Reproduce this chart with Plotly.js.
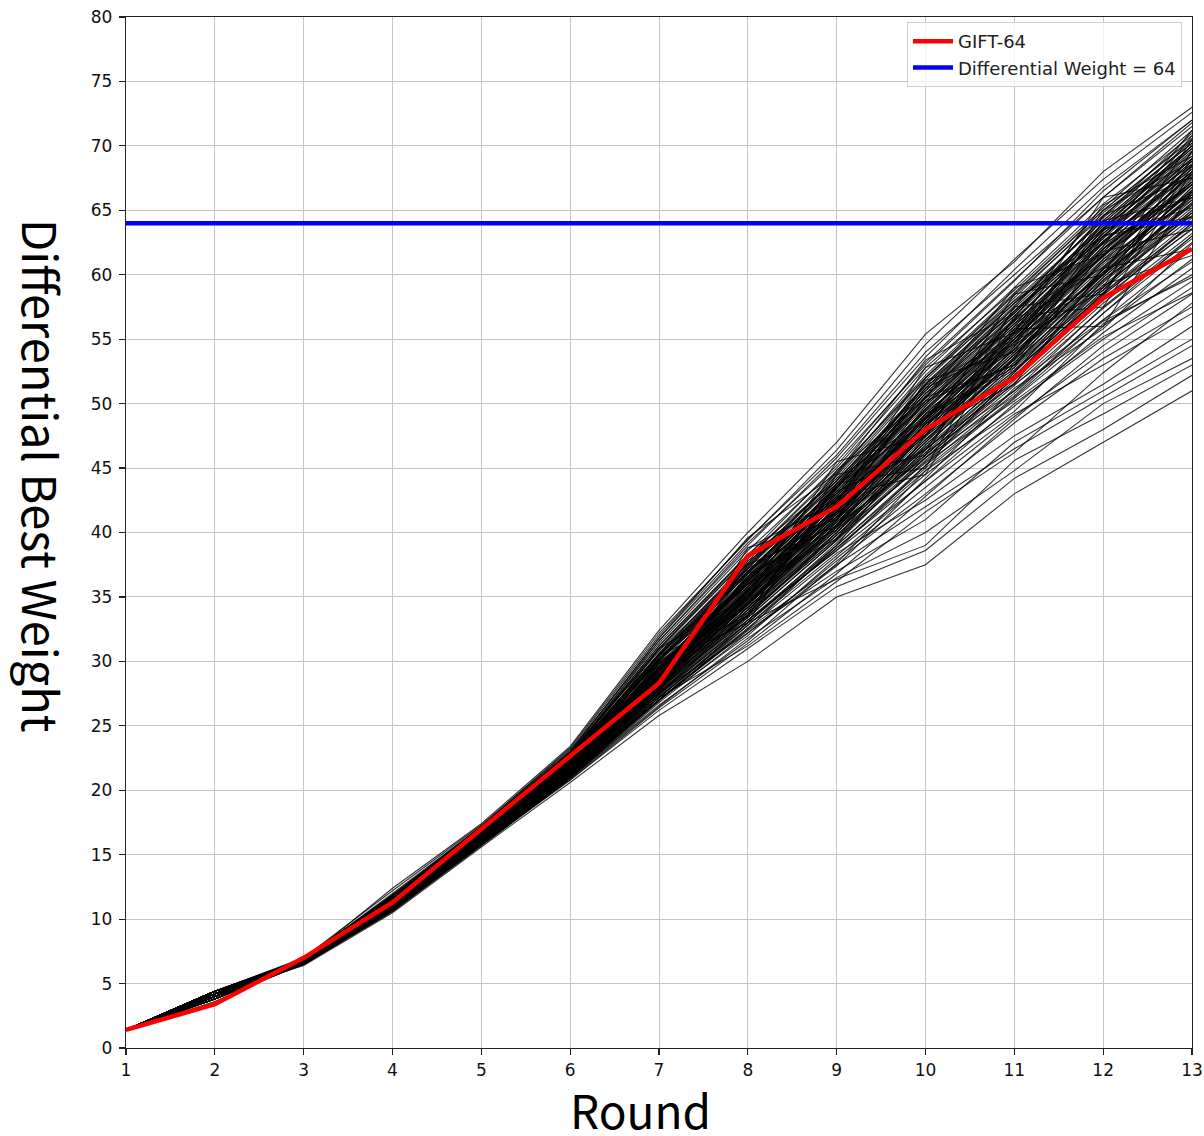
<!DOCTYPE html>
<html>
<head>
<meta charset="utf-8">
<script src="https://cdn.plot.ly/plotly-3.0.1.min.js"></script>
<style>html,body{margin:0;padding:0;background:#fff;}#chart{width:1204px;height:1136px;}</style>
</head>
<body>
<div id="chart"></div>
<script>
// ---- data ----
const rounds = [1,2,3,4,5,6,7,8,9,10,11,12,13];
const giftName = "GIFT-64";
const gift64 = [1.4,3.4,7.0,11.3,17.0,22.6,28.3,38.2,42.0,48.0,52.0,58.2,62.0];
const thresholdName = "Differential Weight = 64";
const threshold = 64;
const yTicks = [0,5,10,15,20,25,30,35,40,45,50,55,60,65,70,75,80];
const xTitle = "Round";
const yTitle = "Differential Best Weight";
// other cipher variants (best weight per round)
const variants = [
[1.4,4.4,6.8,12.4,17.4,23.4,32.4,40.0,47.0,55.4,61.0,68.0,73.0],
[1.4,4.2,6.9,12.0,17.2,23.0,31.8,39.2,45.5,53.0,59.5,66.5,72.0],
[1.4,4.0,7.0,11.8,17.0,22.8,31.0,38.0,44.8,52.0,58.5,65.0,70.5],
[1.4,4.4,6.6,11.5,16.8,22.4,30.2,37.0,43.5,51.5,57.0,64.0,70.0],
[1.4,3.8,6.8,11.2,16.5,22.0,29.5,36.2,42.8,50.2,56.5,63.0,69.0],
[1.4,4.2,6.5,10.8,16.0,21.4,28.0,34.5,41.0,48.5,55.0,62.0,68.5],
[1.4,4.0,6.7,11.0,16.2,21.8,29.0,35.5,42.0,49.0,55.8,61.5,67.5],
[1.4,4.4,6.9,11.6,16.9,22.6,30.5,36.8,43.0,50.5,57.5,64.5,71.0],
[1.4,3.6,6.6,10.9,16.1,21.2,27.5,33.5,40.0,47.0,53.5,60.5,66.5],
[1.4,4.2,6.4,10.5,15.6,20.6,25.8,30.0,35.0,37.5,43.0,47.0,51.0],
[1.4,4.4,6.6,10.7,15.8,20.8,26.2,31.0,35.8,38.6,44.2,48.0,52.2],
[1.4,4.0,6.5,10.6,15.7,20.9,26.5,31.8,36.5,40.0,44.8,50.0,53.5],
[1.4,3.8,6.7,10.9,16.0,21.2,27.0,32.5,37.5,42.0,46.5,50.5,54.5],
[1.4,4.2,6.8,11.3,16.6,22.2,29.2,35.0,40.8,46.5,51.5,56.5,61.0],
[1.4,4.0,6.9,11.4,16.7,22.4,29.8,36.0,41.5,47.5,52.5,58.5,63.5],
[1.4,4.4,6.8,11.7,17.0,22.9,30.8,37.5,43.8,50.0,56.0,62.5,68.0],
[1.4,4.2,6.7,11.1,16.4,21.9,28.6,35.0,41.2,48.0,54.2,61.0,66.0],
[1.4,3.8,6.6,10.8,16.0,21.3,27.8,33.8,39.5,45.5,51.0,57.5,63.0],
[1.4,4.0,6.8,11.2,16.5,22.1,29.0,35.8,42.5,49.5,55.5,62.0,67.0],
[1.4,4.4,7.0,12.2,17.3,23.2,32.0,39.5,46.0,54.0,60.0,66.0,71.5],
[1.4,4.2,6.9,11.9,17.1,22.9,31.2,38.3,44.0,51.2,57.8,63.5,69.5],
[1.4,4.0,6.6,11.0,16.2,21.6,28.4,34.8,40.5,46.0,52.0,58.0,64.0],
[1.4,4.4,6.5,10.7,15.9,21.0,27.0,32.0,38.0,43.5,49.0,54.0,58.5],
[1.4,4.2,6.6,10.9,16.1,21.3,27.2,32.8,38.8,44.5,49.8,55.5,60.5],
[1.4,3.8,6.7,11.1,16.3,21.7,28.2,34.2,40.2,46.8,52.8,59.0,65.0],
[1.4,4.0,6.8,11.3,16.6,22.3,29.6,36.5,43.2,50.8,56.8,63.2,69.0],
[1.4,4.4,6.9,11.5,16.8,22.5,30.0,37.2,44.5,52.5,59.0,65.5,70.8],
[1.4,4.2,6.7,11.2,16.4,22.0,28.8,35.2,41.8,48.8,54.5,60.0,65.5],
[1.4,4.0,6.5,10.8,15.9,21.1,27.2,33.0,39.0,45.0,50.5,56.5,62.0],
[1.4,4.4,6.6,10.9,16.0,21.5,28.0,34.0,39.8,46.2,52.2,58.8,64.8],
[1.4,4.2,6.8,11.4,16.7,22.3,29.4,36.0,42.2,49.2,55.2,62.5,68.5],
[1.4,3.8,6.9,11.6,16.9,22.7,30.6,37.8,44.2,51.8,58.2,64.8,70.2],
[1.4,4.0,6.6,11.0,16.2,21.7,28.3,34.6,41.0,47.8,54.0,60.2,66.2],
[1.4,4.4,6.7,11.1,16.3,21.8,28.7,35.4,41.6,48.2,54.8,61.2,67.2],
[1.4,4.2,6.5,10.6,15.8,20.9,26.8,32.2,37.8,43.0,48.5,53.5,57.5],
[1.4,4.0,6.6,10.8,15.9,21.1,27.0,32.6,38.2,44.0,50.0,55.0,59.5],
[1.4,4.4,6.8,11.3,16.6,22.2,29.2,36.2,42.8,49.8,56.2,62.8,68.8],
[1.4,4.2,6.9,11.7,17.0,22.8,30.5,37.0,43.5,50.5,56.8,63.8,69.8],
[1.4,3.8,6.7,11.2,16.5,22.0,28.9,35.6,42.0,48.8,55.0,61.8,67.8],
[1.4,4.0,6.8,11.4,16.7,22.4,29.6,36.4,43.0,50.0,56.5,63.0,68.2],
[1.4,4.4,6.6,11.0,16.2,21.6,28.2,34.4,40.6,47.2,53.2,59.5,65.2],
[1.4,4.2,6.7,11.1,16.4,21.9,28.6,35.2,41.4,47.8,53.8,60.0,66.8],
[1.4,4.0,6.9,11.8,17.1,23.0,31.4,38.6,45.0,52.8,58.8,65.2,71.2],
[1.4,4.4,6.5,10.7,15.8,21.0,27.0,32.4,37.0,41.0,47.0,51.0,55.0],
[1.4,4.2,6.6,10.9,16.0,21.3,27.4,33.2,39.0,45.2,50.8,57.0,62.5],
[1.4,4.0,6.7,11.2,16.4,21.9,28.5,34.9,41.2,48.4,54.6,61.5,67.0],
[1.4,4.4,6.8,11.5,16.8,22.5,30.0,36.8,43.4,50.8,57.2,63.6,69.2],
[1.4,4.2,6.9,11.6,16.9,22.6,30.4,37.4,44.0,51.5,58.0,64.2,70.0],
[1.4,3.8,6.6,11.0,16.2,21.5,28.0,34.2,40.4,47.0,53.0,59.8,65.8],
[1.4,4.0,6.7,11.2,16.5,22.0,28.9,35.3,41.6,48.6,55.0,61.5,66.5],
[1.4,4.4,6.5,10.6,15.7,20.8,26.4,31.4,36.8,42.8,48.8,54.5,59.0],
[1.4,4.2,6.8,11.4,16.7,22.3,29.5,36.3,42.6,49.6,55.6,62.2,68.0],
[1.4,4.0,6.9,11.7,17.0,22.8,30.9,38.0,44.6,52.2,58.6,65.0,70.6],
[1.4,4.4,6.7,11.1,16.3,21.8,28.6,35.0,41.4,48.4,54.4,60.8,66.4],
[1.4,4.2,6.6,10.9,16.1,21.4,27.8,33.8,40.0,46.4,52.6,59.2,64.4],
[1.4,4.0,6.8,11.3,16.6,22.1,29.2,35.8,42.2,49.0,55.4,62.0,67.6],
[1.4,4.4,6.9,11.8,17.1,22.9,31.0,38.2,45.2,53.2,59.6,66.0,71.8],
[1.4,4.2,6.5,10.8,16.0,21.2,27.4,33.4,39.4,45.6,51.4,57.4,62.8],
[1.4,3.8,6.7,11.2,16.4,21.9,28.7,35.2,41.6,48.2,54.2,60.6,66.2],
[1.4,4.0,6.6,11.0,16.2,21.6,28.3,34.6,40.8,47.4,53.4,60.0,65.6],
[1.4,4.4,6.8,11.4,16.7,22.3,29.6,36.6,43.4,50.6,57.0,63.4,69.4],
[1.4,4.2,6.7,11.2,16.5,22.0,29.0,35.6,42.0,48.6,54.8,61.0,67.4],
[1.4,4.0,6.5,10.7,15.8,21.0,27.0,33.0,39.2,45.8,51.8,58.2,63.6],
[1.4,4.4,6.6,11.0,16.1,21.5,28.1,34.4,40.8,47.6,53.6,60.4,66.0],
[1.4,4.2,6.9,11.6,16.9,22.6,30.2,37.2,43.8,51.2,57.4,63.8,69.6],
[1.4,3.8,6.8,11.3,16.6,22.2,29.3,36.0,42.4,49.4,55.8,62.4,68.4],
[1.4,4.0,6.7,11.1,16.3,21.8,28.5,34.8,41.0,47.6,53.8,59.6,64.6],
[1.4,4.4,6.6,10.9,16.0,21.3,27.6,33.6,39.6,45.8,51.6,57.8,63.2],
[1.4,4.2,6.8,11.4,16.7,22.4,29.8,36.8,43.6,51.0,57.6,64.4,70.4],
[1.4,4.0,6.9,11.5,16.8,22.5,30.1,37.0,43.2,50.2,56.4,63.2,68.6],
[1.4,4.4,6.5,10.8,15.9,21.2,27.3,33.2,38.6,44.0,49.2,53.0,57.0],
[1.4,4.2,6.6,10.9,16.1,21.4,27.7,33.7,39.8,46.0,52.0,58.6,64.2],
[1.4,4.0,6.7,11.2,16.4,21.9,28.8,35.4,41.8,48.8,55.2,61.6,67.2],
[1.4,4.4,6.8,11.3,16.6,22.2,29.3,36.1,42.6,49.6,56.0,62.6,68.2],
[1.4,4.2,6.7,11.1,16.3,21.7,28.4,34.7,41.0,47.8,53.8,60.4,66.6],
[1.4,4.0,6.6,11.0,16.2,21.5,28.0,34.0,40.2,46.6,52.4,59.0,64.8],
[1.4,4.4,6.9,11.7,17.0,22.7,30.6,37.6,44.4,52.0,58.4,64.6,70.2],
[1.4,4.2,6.8,11.4,16.7,22.3,29.5,36.4,43.0,50.4,56.6,63.0,68.8],
[1.4,3.8,6.5,10.7,15.8,21.0,26.9,32.8,38.4,42.5,47.5,51.5,56.0],
[1.4,4.0,6.7,11.2,16.5,22.1,29.1,35.7,42.3,49.2,55.4,61.8,67.8],
[1.4,4.4,6.6,11.0,16.1,21.5,28.2,34.5,40.6,47.2,53.2,59.4,65.0],
[1.4,4.2,6.9,11.8,17.2,23.1,31.6,39.0,45.8,53.6,60.4,66.8,72.0],
[1.4,4.0,6.8,11.3,16.6,22.2,29.4,36.2,42.8,50.0,56.2,62.6,68.0],
[1.4,4.4,6.7,11.1,16.3,21.8,28.6,35.1,41.4,48.0,54.0,60.2,65.4],
[1.4,4.2,6.6,10.9,16.0,21.4,27.9,34.0,40.0,46.4,52.2,58.4,64.0],
[1.4,4.0,6.7,11.2,16.4,22.0,28.9,35.5,41.9,48.9,55.0,61.4,67.0],
[1.4,4.4,6.8,11.5,16.8,22.5,30.0,36.9,43.6,51.0,57.2,63.6,69.0],
[1.4,4.2,6.5,10.8,15.9,21.1,27.2,33.0,38.8,44.8,50.4,56.0,61.2],
[1.4,3.8,6.6,11.0,16.2,21.6,28.2,34.4,40.6,47.2,53.4,59.8,65.4],
[1.4,4.0,6.9,11.6,16.9,22.7,30.3,37.3,44.0,51.4,57.8,64.2,70.0],
[1.4,4.0,6.8,11.6,16.4,22.6,28.0,37.5,40.5,50.5,53.0,63.0,64.5],
[1.4,4.4,6.6,11.0,17.0,21.5,30.5,33.5,44.5,46.0,57.5,58.5,69.0],
[1.4,4.2,6.9,11.9,16.2,22.9,27.5,38.8,41.0,51.8,54.0,64.2,66.0],
[1.4,3.8,6.5,10.9,16.8,21.2,29.8,33.0,43.8,45.0,56.8,57.5,68.0],
[1.4,4.0,6.7,11.4,16.5,22.2,29.0,36.0,39.5,48.0,51.5,60.5,62.0],
[1.4,4.4,6.8,11.2,16.9,22.0,31.0,35.0,45.5,47.5,58.5,60.0,70.5],
[1.4,4.2,6.6,11.5,16.1,22.7,28.2,37.8,42.2,52.8,55.5,66.0,67.5],
[1.4,4.0,6.9,11.1,16.6,21.6,30.0,34.2,42.8,44.5,55.8,56.0,66.5],
[1.4,4.4,6.7,11.7,16.3,22.4,27.8,36.8,40.2,49.2,52.8,61.8,63.5],
[1.4,4.2,6.5,10.8,16.7,21.4,29.4,33.8,43.2,46.4,56.0,59.0,69.6],
[1.4,3.8,6.8,11.3,16.4,22.5,28.8,37.0,41.6,51.2,54.6,65.0,68.8],
[1.4,4.0,6.6,11.0,16.6,21.9,29.6,34.8,43.6,48.6,57.2,62.8,71.2],
[1.4,4.4,6.9,11.8,16.8,22.8,31.2,38.2,43.0,50.2,53.0,59.2,61.5],
[1.4,4.2,6.7,11.2,16.2,21.5,27.0,32.5,39.0,47.5,53.8,61.0,64.5],
[1.4,4.0,6.5,10.9,16.0,21.8,28.6,35.6,42.6,48.2,55.6,63.5,66.0],
[1.4,4.4,6.8,11.4,16.9,22.3,30.2,36.0,41.0,49.6,56.2,60.6,67.0],
[1.4,4.2,6.6,11.1,16.5,22.1,29.3,35.4,43.4,50.8,55.0,62.2,70.8],
[1.4,3.8,6.9,11.6,16.3,22.6,28.4,36.6,40.8,47.0,54.4,64.6,67.6],
[1.4,4.0,6.7,11.3,16.7,21.7,29.9,34.4,42.0,51.6,57.8,63.0,65.2],
[1.4,4.4,6.5,10.8,16.1,21.3,28.2,33.6,41.8,49.0,52.6,58.4,68.4],
[1.4,4.2,6.8,11.5,16.4,22.4,30.4,37.6,44.2,48.8,56.6,65.4,69.2],
[1.4,4.0,6.6,11.0,16.6,21.9,28.0,33.2,38.6,45.2,52.4,60.2,64.8],
[1.4,4.4,6.9,11.7,17.1,22.7,31.6,38.8,42.4,52.0,58.0,62.4,66.2],
[1.4,4.2,6.7,11.2,16.3,21.6,27.4,34.0,40.6,45.8,50.6,57.0,63.0],
[1.4,3.8,6.5,10.9,16.2,21.2,27.6,32.2,37.4,44.2,51.2,55.8,62.4],
[1.4,4.0,6.8,11.4,16.8,22.2,30.2,35.8,44.8,50.4,59.0,61.6,67.8],
[1.4,4.4,6.6,11.1,16.4,22.0,29.2,36.4,41.4,48.4,53.4,63.4,68.6],
[1.4,4.2,6.9,11.8,16.9,23.0,31.8,39.6,44.6,53.4,57.0,64.0,69.8],
[1.4,4.0,6.7,11.3,16.5,21.8,28.4,35.0,42.4,47.6,54.8,58.8,66.4],
[1.4,4.4,6.5,10.7,15.9,21.0,26.6,31.6,37.6,44.8,49.4,56.2,60.0],
[1.4,4.2,6.8,11.5,16.8,22.5,30.6,37.2,41.2,49.8,56.4,61.4,68.0],
[1.4,3.8,6.6,11.0,16.0,21.4,28.6,34.6,40.2,46.0,52.0,59.6,65.6],
[1.4,4.0,6.9,11.6,17.0,22.6,29.4,36.2,43.8,51.4,55.2,63.6,70.0],
[1.4,4.4,6.7,11.2,16.6,21.9,29.8,35.2,41.2,46.6,53.6,61.2,65.8],
[1.4,4.2,6.5,10.8,16.1,21.5,27.8,34.2,40.4,47.8,55.0,60.0,66.8],
[1.4,4.0,6.8,11.4,16.7,22.3,28.9,36.6,42.8,49.4,54.2,62.0,67.2],
[1.4,4.4,6.6,11.0,16.3,21.7,28.8,33.4,39.4,46.8,53.0,58.6,63.8],
[1.4,4.2,6.9,11.9,17.2,23.3,32.2,39.4,46.4,54.6,61.2,67.4,72.6],
[1.4,4.0,6.7,11.1,16.4,21.6,27.6,33.0,36.4,39.0,45.6,49.2,53.0],
[1.4,4.4,6.6,10.9,16.0,21.2,27.2,31.2,36.2,41.6,46.2,52.4,57.8],
[1.4,4.0,6.6,11.0,16.2,21.4,27.6,33.6,39.8,45.4,50.2,55.2,58.6],
[1.4,4.2,6.7,11.1,16.3,21.7,28.4,34.4,40.4,46.2,51.0,56.4,59.8]
];

// ---- plot ----
const traces = variants.map(v => ({
  x: rounds, y: v, type: 'scatter', mode: 'lines',
  line: {color: 'rgba(0,0,0,0.8)', width: 1.1},
  showlegend: false, hoverinfo: 'skip'
}));
traces.push({
  x: rounds, y: gift64, type: 'scatter', mode: 'lines', name: giftName,
  line: {color: '#ff0000', width: 4.5}
});
traces.push({
  x: [rounds[0], rounds[rounds.length-1]], y: [threshold, threshold],
  type: 'scatter', mode: 'lines', name: thresholdName,
  line: {color: '#0000ff', width: 4.5}
});

const L = 126, R = 12, T = 17, B = 88;
const W = 1204, H = 1136;
const pw = W - L - R, ph = H - T - B;
const px = v => (v - L) / pw;
const py = v => (H - B - v) / ph;

const axisCommon = {
  showline: true, linecolor: '#222', linewidth: 1.3, mirror: true,
  ticks: 'outside', ticklen: 6, tickwidth: 1.2, tickcolor: '#222',
  showgrid: true, gridcolor: '#c4c4c4', gridwidth: 1,
  zeroline: false,
  tickfont: {family: 'DejaVu Sans', size: 17, color: '#111'}
};

const layout = {
  width: W, height: H,
  margin: {l: L, r: R, t: T, b: B, pad: 0},
  paper_bgcolor: '#fff', plot_bgcolor: '#fff',
  xaxis: Object.assign({}, axisCommon, {
    range: [1, 13], tickmode: 'array', tickvals: rounds, ticktext: rounds.map(String)
  }),
  yaxis: Object.assign({}, axisCommon, {
    range: [0, 80], tickmode: 'array', tickvals: yTicks, ticktext: yTicks.map(String),
    ticklabelstandoff: 3
  }),
  legend: {
    x: px(1182), y: py(22), xanchor: 'right', yanchor: 'top',
    bgcolor: 'rgba(255,255,255,0.8)', bordercolor: '#d0d0d0', borderwidth: 1,
    font: {family: 'DejaVu Sans', size: 18, color: '#222'},
    itemwidth: 40, tracegroupgap: 0
  },
  annotations: [
    {text: xTitle, xref: 'paper', yref: 'paper', x: px(640), y: py(1109),
     xanchor: 'center', yanchor: 'middle', showarrow: false, height: 44,
     font: {family: 'Noto Sans CJK KR', size: 46, color: '#000'}},
    {text: yTitle, xref: 'paper', yref: 'paper', x: px(42), y: py(476),
     xanchor: 'center', yanchor: 'middle', showarrow: false, textangle: 90,
     font: {family: 'Noto Sans CJK KR', size: 47, color: '#000'}}
  ],
  showlegend: true
};

Plotly.newPlot('chart', traces, layout, {displayModeBar: false, staticPlot: true});
</script>
</body>
</html>
